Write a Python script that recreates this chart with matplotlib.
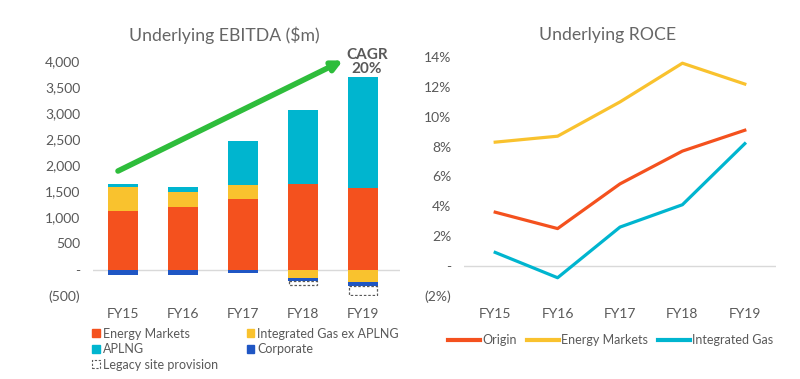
import numpy as np
import matplotlib
matplotlib.use("Agg")
import matplotlib.pyplot as plt
from matplotlib.patches import Patch

plt.rcParams['font.family'] = ['Lato', 'DejaVu Sans']

years = ['FY15', 'FY16', 'FY17', 'FY18', 'FY19']

# Underlying EBITDA ($m) by segment
energy_markets = [1130, 1200, 1360, 1650, 1570]
ig_ex_aplng = [460, 285, 255, -165, -230]
aplng = [60, 105, 860, 1420, 2130]
corporate = [-110, -95, -75, -50, -80]
legacy = [0, 0, 0, -80, -180]

ebitda_ticks = [-500, 0, 500, 1000, 1500, 2000, 2500, 3000, 3500, 4000]
ebitda_labels = ['(500)', '-', '500', '1,000', '1,500', '2,000', '2,500',
                 '3,000', '3,500', '4,000']

# Underlying ROCE (%)
roce_origin = [3.6, 2.5, 5.5, 7.7, 9.1]
roce_energy = [8.3, 8.7, 11.0, 13.6, 12.2]
roce_gas = [0.9, -0.8, 2.6, 4.1, 8.2]

roce_ticks = [-2, 0, 2, 4, 6, 8, 10, 12, 14]
roce_labels = ['(2%)', '-', '2%', '4%', '6%', '8%', '10%', '12%', '14%']

RED = '#F4511E'
YELLOW = '#F9C22E'
CYAN = '#00B5CF'
BLUE = '#1F56C4'
GREEN = '#2EBD3B'
GREY = '#595959'

fig = plt.figure(figsize=(8, 3.79), dpi=100)
ax1 = fig.add_axes([0.116, 0.220, 0.384, 0.619])
ax2 = fig.add_axes([0.580, 0.220, 0.390, 0.629])

# ---- left: stacked bars
x = np.arange(len(years))
w = 0.5
pos = np.zeros(len(years))
neg = np.zeros(len(years))
for vals, col in [(energy_markets, RED), (ig_ex_aplng, YELLOW), (aplng, CYAN),
                  (corporate, BLUE)]:
    v = np.array(vals, dtype=float)
    base = np.where(v >= 0, pos, neg)
    ax1.bar(x, v, w, bottom=base, color=col, zorder=3)
    pos = pos + np.clip(v, 0, None)
    neg = neg + np.clip(v, None, 0)
lv = np.array(legacy, dtype=float)
mask = lv != 0
ax1.bar(x[mask], lv[mask], w * 0.95, bottom=neg[mask], facecolor='white',
        edgecolor=GREY, linestyle=(0, (2, 1.5)), linewidth=0.9, zorder=3)

ax1.axhline(0, color='#d9d9d9', lw=1, zorder=1)
ax1.set_xlim(-0.5, 4.62)
ax1.set_ylim(-500, 4000)
ax1.set_yticks(ebitda_ticks)
ax1.set_yticklabels(ebitda_labels)
ax1.set_xticks(x)
ax1.set_xticklabels(years)

ax1.annotate('', xy=(3.67, 4010), xytext=(-0.08, 1890),
             arrowprops=dict(arrowstyle='-|>', color=GREEN, lw=4,
                             mutation_scale=15, shrinkA=0, shrinkB=0),
             annotation_clip=False, zorder=5)
ax1.text(4.07, 3975, 'CAGR\n20%', ha='center', va='center', fontsize=11,
         fontweight='bold', color=GREY, linespacing=1.0)

handles = [Patch(color=RED, label='Energy Markets'),
           Patch(color=CYAN, label='APLNG'),
           Patch(facecolor='white', edgecolor=GREY, linestyle=(0, (2, 1.5)),
                 linewidth=0.8, label='Legacy site provision'),
           Patch(color=YELLOW, label='Integrated Gas ex APLNG'),
           Patch(color=BLUE, label='Corporate')]
ax1.legend(handles=handles, ncol=2, loc='upper left',
           bbox_to_anchor=(-0.022, -0.11), frameon=False, fontsize=9,
           handlelength=0.6, handleheight=0.6, handletextpad=0.25,
           labelspacing=0.28, columnspacing=2.3, borderpad=0,
           labelcolor=GREY)

# ---- right: lines
ax2.axhline(0, color='#d9d9d9', lw=1, zorder=1)
ax2.plot(x, roce_origin, color=RED, lw=2.3, label='Origin', zorder=3)
ax2.plot(x, roce_energy, color=YELLOW, lw=2.3, label='Energy Markets', zorder=3)
ax2.plot(x, roce_gas, color=CYAN, lw=2.3, label='Integrated Gas', zorder=3)
ax2.set_xlim(-0.5, 4.5)
ax2.set_ylim(-2, 14)
ax2.set_yticks(roce_ticks)
ax2.set_yticklabels(roce_labels)
ax2.set_xticks(x)
ax2.set_xticklabels(years)
leg2 = ax2.legend(ncol=3, loc='upper left', bbox_to_anchor=(-0.072, -0.135),
                  frameon=False, fontsize=9, handlelength=2.6,
                  handletextpad=0.15, columnspacing=0.8, borderpad=0,
                  labelcolor=GREY)
for h in leg2.get_lines():
    h.set_linewidth(3)

for ax in (ax1, ax2):
    for s in ax.spines.values():
        s.set_visible(False)
    ax.tick_params(length=0, labelsize=10, labelcolor=GREY)
    ax.tick_params(axis='x', pad=9)
    ax.tick_params(axis='y', pad=9)

fig.text(224 / 800, 1 - 35 / 379, 'Underlying EBITDA ($m)', ha='center',
         va='center', fontsize=12.7, color='#666666')
fig.text(608 / 800, 1 - 35 / 379, 'Underlying ROCE', ha='center',
         va='center', fontsize=12.7, color='#666666')

fig.savefig('out.png', dpi=100, facecolor='white')
